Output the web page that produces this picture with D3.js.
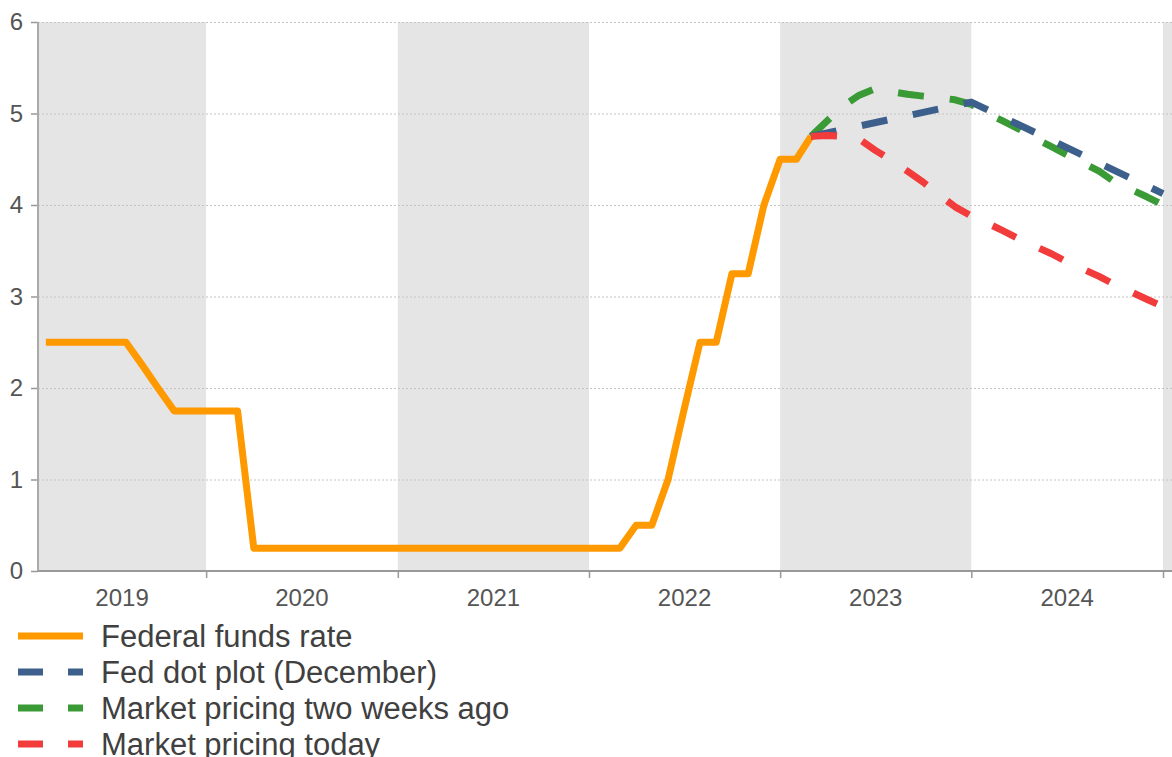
<!DOCTYPE html>
<html>
<head>
<meta charset="utf-8">
<script src="https://cdn.jsdelivr.net/npm/d3@7"></script>
<style>
  body { margin: 0; background: #fff; }
  svg { display: block; font-family: "Liberation Sans", Arial, sans-serif; }
</style>
</head>
<body>
<div class="chartdiv"></div>
<script>
/*
fed funds rate with the dot plot and market pricing paths
*/

// federal funds rate (upper bound), monthly points where the path turns
var ffrDates = ["2019-03-01", "2019-08-01", "2019-09-01", "2019-10-01", "2019-11-01",
  "2020-03-01", "2020-04-01", "2022-03-01", "2022-04-01", "2022-05-01", "2022-06-01",
  "2022-07-01", "2022-08-01", "2022-09-01", "2022-10-01", "2022-11-01", "2022-12-01",
  "2023-01-01", "2023-02-01", "2023-03-01"];
var ffrValues = [2.5, 2.5, 2.25, 2.0, 1.75,
  1.75, 0.25, 0.25, 0.5, 0.5, 1.0,
  1.75, 2.5, 2.5, 3.25, 3.25, 4.0,
  4.5, 4.5, 4.75];

// fed dot plot (december)
var dotDates = ["2023-03-01", "2024-01-01", "2025-01-01"];
var dotValues = [4.75, 5.125, 4.125];

// market pricing, monthly
var marketDates = ["2023-03-01", "2023-04-01", "2023-05-01", "2023-06-01", "2023-07-01",
  "2023-08-01", "2023-09-01", "2023-10-01", "2023-11-01", "2023-12-01", "2024-01-01",
  "2024-02-01", "2024-03-01", "2024-04-01", "2024-05-01", "2024-06-01", "2024-07-01",
  "2024-08-01", "2024-09-01", "2024-10-01", "2024-11-01", "2024-12-01", "2025-01-01"];
var twoWeeksAgoValues = [4.75, 4.92, 5.08, 5.2, 5.27,
  5.24, 5.21, 5.19, 5.17, 5.15, 5.1,
  5.0, 4.92, 4.83, 4.73, 4.64, 4.55,
  4.46, 4.37, 4.25, 4.17, 4.09, 4.0];
var todayValues = [4.75, 4.76, 4.75, 4.72, 4.6,
  4.49, 4.37, 4.25, 4.11, 3.98, 3.88,
  3.8, 3.72, 3.63, 3.55, 3.47, 3.38,
  3.3, 3.22, 3.13, 3.05, 2.97, 2.89];

var years = [2019, 2020, 2021, 2022, 2023, 2024, 2025];
var yTicks = [0, 1, 2, 3, 4, 5, 6];

var legendLabels = ["Federal funds rate", "Fed dot plot (December)",
  "Market pricing two weeks ago", "Market pricing today"];
var legendColors = ["#ff9900", "#3d5f8b", "#3a9b36", "#f23c3c"];

var parseDate = d3.timeParse("%Y-%m-%d");

// size of the page and the plot area
var svgWidth = 1172, svgHeight = 757;
var margin = {top: 22, left: 38, bottom: 186};
var plotBottom = svgHeight - margin.bottom;

var x = d3.scaleTime()
    .domain([new Date(2019, 1, 14), new Date(2025, 0, 1)])
    .range([margin.left, 1163]);
var y = d3.scaleLinear().domain([0, 6]).range([plotBottom, margin.top]);

var svg = d3.select(".chartdiv")
    .append("svg")
    .attr("width", svgWidth)
    .attr("height", svgHeight);

// alternating grey year bands
svg.selectAll(".band")
    .data(years.filter(function(d, i) { return i % 2 === 0; }))
  .enter().append("rect")
    .classed("band", true)
    .attr("x", function(d) { return Math.max(margin.left, x(new Date(d, 0, 1))); })
    .attr("width", function(d) {
      return x(new Date(d + 1, 0, 1)) - Math.max(margin.left, x(new Date(d, 0, 1)));
    })
    .attr("y", margin.top)
    .attr("height", plotBottom - margin.top)
    .attr("fill", "#e5e5e5");

// horizontal dotted gridlines
svg.selectAll(".grid")
    .data(yTicks)
  .enter().append("line")
    .classed("grid", true)
    .attr("x1", margin.left)
    .attr("x2", svgWidth)
    .attr("y1", function(d) { return y(d) + 0.5; })
    .attr("y2", function(d) { return y(d) + 0.5; })
    .attr("stroke", "#c4c4c4")
    .attr("stroke-dasharray", "2,2");

// y axis
var yAxis = d3.axisLeft(y)
    .tickValues(yTicks)
    .tickFormat(d3.format("d"))
    .tickSize(7)
    .tickPadding(8);

var yG = svg.append("g")
    .attr("transform", "translate(" + margin.left + ",0)")
    .call(yAxis);
yG.select(".domain").remove();
yG.selectAll("line").attr("stroke", "#999").attr("stroke-width", 1.5);
yG.selectAll("text")
    .style("font-size", "24px")
    .attr("fill", "#555");

svg.append("line")
    .attr("x1", margin.left).attr("x2", margin.left)
    .attr("y1", margin.top).attr("y2", plotBottom)
    .attr("stroke", "#aaa")
    .attr("stroke-width", 2);

// x axis: ticks at year boundaries, labels centred in the visible year
var xAxis = d3.axisBottom(x)
    .tickValues(years.slice(1).map(function(d) { return new Date(d, 0, 1); }))
    .tickSize(7)
    .tickFormat("");

var xG = svg.append("g")
    .attr("transform", "translate(0," + plotBottom + ")")
    .call(xAxis);
xG.select(".domain").remove();
xG.selectAll("line").attr("stroke", "#999").attr("stroke-width", 1.5);

svg.append("line")
    .attr("x1", margin.left).attr("x2", svgWidth)
    .attr("y1", plotBottom).attr("y2", plotBottom)
    .attr("stroke", "#999")
    .attr("stroke-width", 2);

svg.selectAll(".yearlabel")
    .data(years.slice(0, 6))
  .enter().append("text")
    .classed("yearlabel", true)
    .attr("x", function(d) {
      var a = Math.max(margin.left, x(new Date(d, 0, 1)));
      var b = x(new Date(d + 1, 0, 1));
      return (a + b) / 2;
    })
    .attr("y", plotBottom + 35)
    .attr("text-anchor", "middle")
    .style("font-size", "24px")
    .attr("fill", "#555")
    .text(function(d) { return d; });

// series lines
var line = d3.line()
    .x(function(d) { return x(d.date); })
    .y(function(d) { return y(d.value); });

function toPoints(dates, values) {
  return dates.map(function(d, i) { return {date: parseDate(d), value: values[i]}; });
}

var series = [
  {points: toPoints(ffrDates, ffrValues), color: legendColors[0], dash: null},
  {points: toPoints(marketDates, twoWeeksAgoValues), color: legendColors[2], dash: "26,26"},
  {points: toPoints(dotDates, dotValues), color: legendColors[1], dash: "26,26"},
  {points: toPoints(marketDates, todayValues), color: legendColors[3], dash: "26,26"}
];

svg.selectAll(".series")
    .data(series)
  .enter().append("path")
    .classed("series", true)
    .attr("d", function(d) { return line(d.points); })
    .attr("fill", "none")
    .attr("stroke", function(d) { return d.color; })
    .attr("stroke-width", 7)
    .attr("stroke-linejoin", "round")
    .attr("stroke-dasharray", function(d) { return d.dash; });

// legend
var legend = svg.selectAll(".legend")
    .data(legendLabels)
  .enter().append("g")
    .classed("legend", true)
    .attr("transform", function(d, i) { return "translate(0," + (636 + i * 36) + ")"; });

legend.append("line")
    .attr("x1", 18).attr("x2", 83)
    .attr("stroke", function(d, i) { return legendColors[i]; })
    .attr("stroke-width", 7)
    .attr("stroke-dasharray", function(d, i) { return i === 0 ? null : "25,25"; });

legend.append("text")
    .attr("x", 101)
    .attr("y", 11)
    .style("font-size", "31px")
    .attr("fill", "#404040")
    .text(function(d) { return d; });
</script>
</body>
</html>
